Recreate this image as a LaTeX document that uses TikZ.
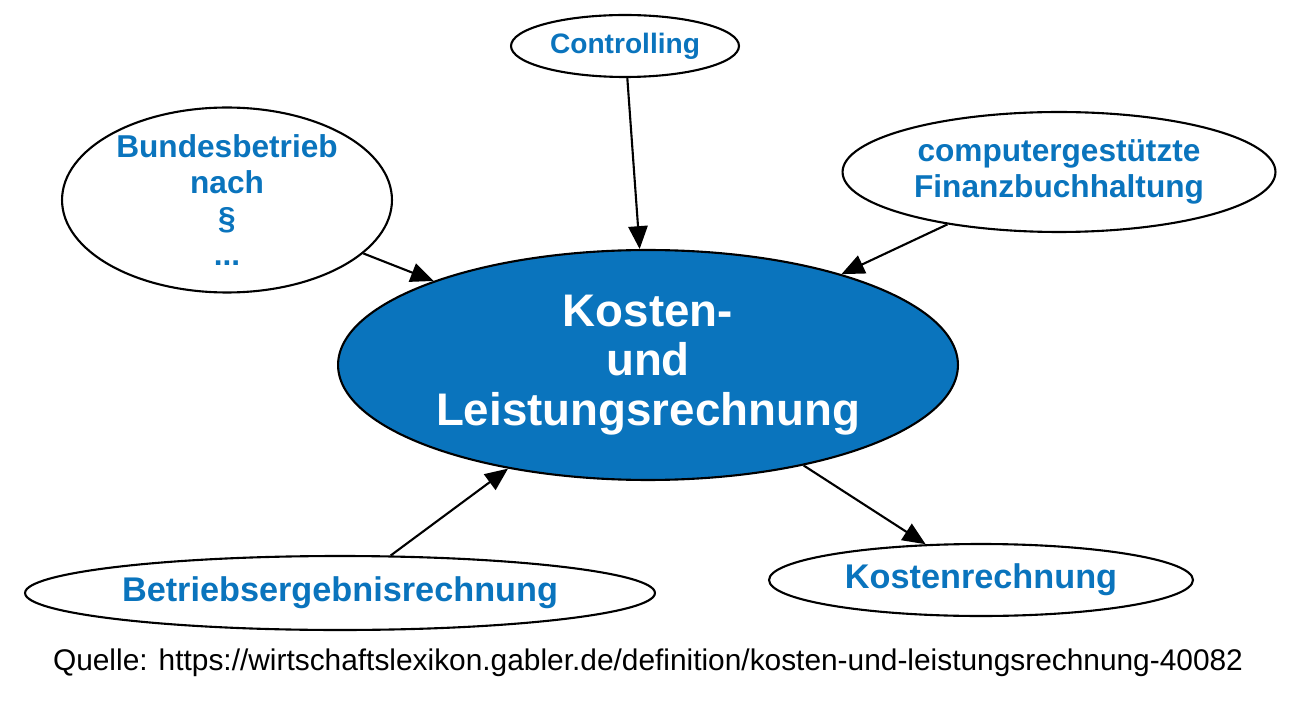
\documentclass[tikz,border=0pt]{standalone}
\usepackage{fontspec}
\setmainfont{Liberation Sans}
\usetikzlibrary{shapes.geometric,arrows.meta}
\definecolor{gblue}{HTML}{0A74BD}
\begin{document}
\begin{tikzpicture}[x=0.02cm,y=-0.02cm]
\tikzset{TermStyle/.style = {ellipse, draw, line width=1.2pt, inner sep=0pt,
 text=gblue, font=\fontsize{18}{20.4}\selectfont\bfseries, align=center},
 EdgeStyle/.style = {line width=1.2pt, -{Triangle[length=13pt,width=11pt]}}}
\useasboundingbox (0,0) rectangle (1300,712);

\node[TermStyle, fill=gblue, text=white, minimum width=12.4cm, minimum height=4.6cm,
 font=\fontsize{26}{28.3}\selectfont\bfseries] (KLR) at (648,365) {Kosten-\\und\\Leistungsrechnung};
\node[TermStyle, minimum width=4.56cm, minimum height=1.24cm,
 font=\fontsize{16}{19}\selectfont\bfseries] (Ctrl) at (625,46) {Controlling};
\node[TermStyle, minimum width=6.6cm, minimum height=3.7cm] (Bund) at (227,200) {Bundesbetrieb\\nach\\\S\\...};
\node[TermStyle, minimum width=8.66cm, minimum height=2.4cm] (Fibu) at (1059,172) {computergestützte\\Finanzbuchhaltung};
\node[TermStyle, minimum width=12.6cm, minimum height=1.48cm,
 font=\fontsize{19.5}{22}\selectfont\bfseries] (BER) at (340,593) {Betriebsergebnisrechnung};
\node[TermStyle, minimum width=8.48cm, minimum height=1.44cm,
 font=\fontsize{19.5}{22}\selectfont\bfseries] (KR) at (981,580) {Kostenrechnung};

\draw[EdgeStyle] (Ctrl) -- (KLR);
\draw[EdgeStyle] (Bund) -- (KLR);
\draw[EdgeStyle] (Fibu) -- (KLR);
\draw[EdgeStyle] (BER) -- (KLR);
\draw[EdgeStyle] (KLR) -- (KR);

\node[font=\fontsize{17}{20}\selectfont] (Src) at (648,663)
 {Quelle: https://wirtschaftslexikon.gabler.de/definition/kosten-und-leistungsrechnung-40082};
\end{tikzpicture}
\end{document}
